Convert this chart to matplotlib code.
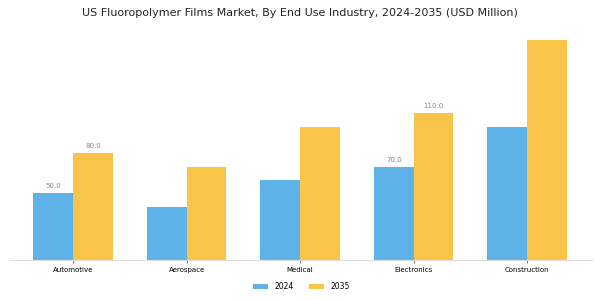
import matplotlib
matplotlib.use("Agg")
import matplotlib.pyplot as plt
import numpy as np

categories = ["Automotive", "Aerospace", "Medical", "Electronics", "Construction"]
years = ["2024", "2035"]
values_2024 = [50.0, 40.0, 60.0, 70.0, 100.0]
values_2035 = [80.0, 70.0, 100.0, 110.0, 165.0]
labeled = {"Automotive", "Electronics"}

colors = ["#5DB3E7", "#FAC44A"]

fig = plt.figure(figsize=(6, 3), dpi=100)
ax = fig.add_axes([0.017, 0.133, 0.970, 0.770])

x = np.arange(len(categories))
w = 0.35
b1 = ax.bar(x - w / 2, values_2024, w, color=colors[0], label=years[0])
b2 = ax.bar(x + w / 2, values_2035, w, color=colors[1], label=years[1])

for bars, vals in ((b1, values_2024), (b2, values_2035)):
    for rect, v, c in zip(bars, vals, categories):
        if c in labeled:
            ax.text(rect.get_x() + rect.get_width() / 2, rect.get_height() + 3,
                    f"{v:.1f}", ha="center", va="bottom", fontsize=5, color="#888888")

ax.set_xticks(x)
ax.set_xticklabels(categories, fontsize=5)
ax.tick_params(axis="x", length=2.5, width=0.6, color="#555555", pad=2.5)
ax.set_yticks([])
for s in ["top", "right", "left"]:
    ax.spines[s].set_visible(False)
ax.spines["bottom"].set_color("#dddddd")
ax.spines["bottom"].set_linewidth(0.8)
ax.set_xlim(-0.555, 4.573)
ax.set_ylim(0, 173)

fig.suptitle("US Fluoropolymer Films Market, By End Use Industry, 2024-2035 (USD Million)",
             fontsize=8, y=0.975, color="#222222")
ax.legend(loc="upper center", bbox_to_anchor=(0.5, -0.065), ncol=2, frameon=False,
          fontsize=5.5, handlelength=2.0, handleheight=0.6, columnspacing=2.0)

fig.savefig("out.png", dpi=100)
